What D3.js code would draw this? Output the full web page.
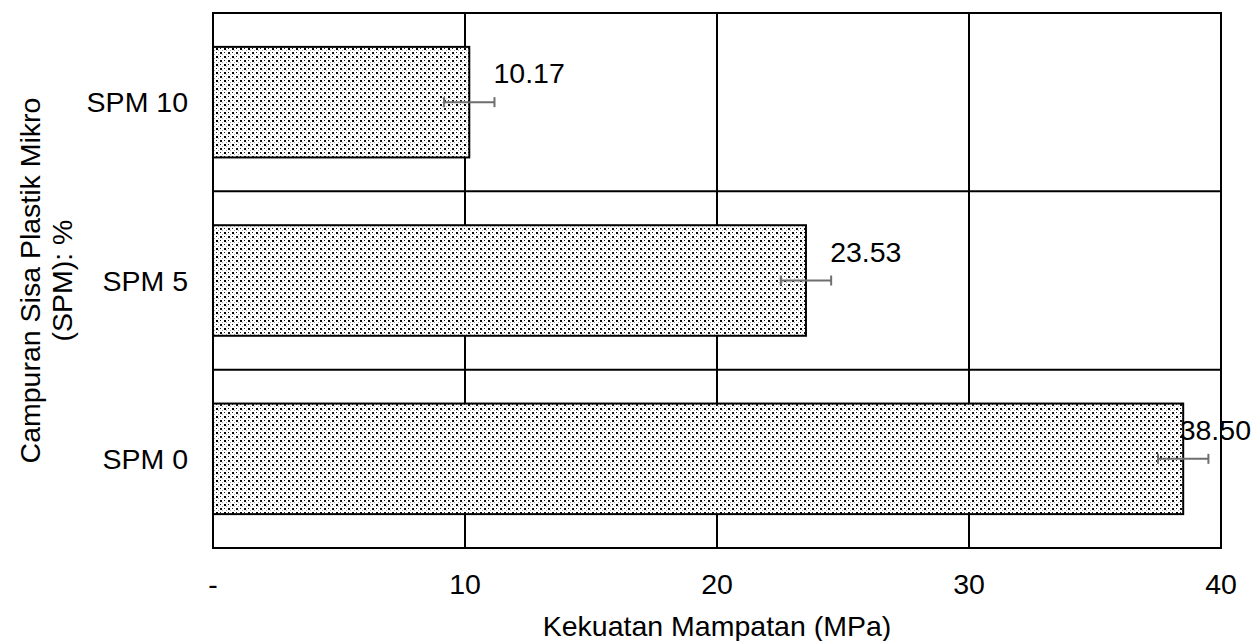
<!DOCTYPE html>
<html><head><meta charset="utf-8">
<script src="https://cdn.jsdelivr.net/npm/d3@7/dist/d3.min.js"></script>
<style>body{margin:0;background:#fff}text{font-family:"Liberation Sans",Arial,sans-serif}</style>
</head><body><svg id="c" width="1259" height="641"></svg>
<script>
const categories = ["SPM 10", "SPM 5", "SPM 0"];
const values = [10.17, 23.53, 38.50];
const errors = [1.0, 1.0, 1.0];
const labels = ["10.17", "23.53", "38.50"];
const xTicks = [0, 10, 20, 30, 40];
const xTickLabels = ["-", "10", "20", "30", "40"];

const svg = d3.select("#c");
const W = 1259;
const L = 213, R = 1221, T = 13, B = 548;
const FS = 28.5;
const x = d3.scaleLinear().domain([0, 40]).range([L, R]);
const y = d3.scaleBand().domain(categories).range([T, B]).paddingInner(0.38).paddingOuter(0.19);

const defs = svg.append("defs");
const pat = defs.append("pattern").attr("id","dots").attr("patternUnits","userSpaceOnUse").attr("width",8).attr("height",8);
pat.append("rect").attr("width",8).attr("height",8).attr("fill","#fff");
[[0,0,2,"#000"],[4,4,2,"#111"],[4,0,1,"#222"],[0,4,1,"#222"],[2,2,1,"#aaa"],[6,6,1,"#aaa"],[2,6,1,"#aaa"],[6,2,1,"#aaa"]]
  .forEach(([px,py,s,c]) => pat.append("rect").attr("x",px).attr("y",py).attr("width",s).attr("height",s).attr("fill",c));

// grid verticals
svg.append("g").selectAll("line").data(xTicks).join("line")
  .attr("x1", d => x(d)).attr("x2", d => x(d)).attr("y1", T).attr("y2", B)
  .attr("stroke", "#000").attr("stroke-width", 2);
// horizontal band boundaries
const bounds = [T, ...categories.slice(1).map(c => y(c) - y.step()*y.paddingInner()/2), B];
svg.append("g").selectAll("line").data(bounds).join("line")
  .attr("x1", L - 1).attr("x2", R + 1).attr("y1", d => d).attr("y2", d => d)
  .attr("stroke", "#000").attr("stroke-width", 2);

// bars
svg.append("g").selectAll("rect").data(categories).join("rect")
  .attr("x", x(0)).attr("y", d => y(d))
  .attr("width", (d,i) => x(values[i]) - x(0)).attr("height", y.bandwidth())
  .attr("fill", "url(#dots)").attr("stroke", "#000").attr("stroke-width", 2);

// error bars
const eg = svg.append("g").attr("stroke", "#6e6e6e").attr("stroke-width", 2);
categories.forEach((c, i) => {
  const cy = y(c) + y.bandwidth()/2;
  const x1 = x(values[i] - errors[i]), x2 = x(values[i] + errors[i]);
  eg.append("line").attr("x1", x1).attr("x2", x2).attr("y1", cy).attr("y2", cy);
  eg.append("line").attr("x1", x1).attr("x2", x1).attr("y1", cy-5).attr("y2", cy+5);
  eg.append("line").attr("x1", x2).attr("x2", x2).attr("y1", cy-5).attr("y2", cy+5);
});

// value labels (kept inside the picture, as the original does)
svg.append("g").selectAll("text").data(categories).join("text")
  .attr("y", d => y(d) + y.bandwidth()/2 - 19)
  .attr("font-size", FS).attr("fill", "#000").text((d,i) => labels[i])
  .each(function(d, i) {
    const w = this.getComputedTextLength();
    const px = Math.min(x(values[i] + errors[i]) - 1, W - w - 8);
    d3.select(this).attr("x", px);
  });

// category labels
svg.append("g").selectAll("text").data(categories).join("text")
  .attr("x", 188).attr("y", d => y(d) + y.bandwidth()/2 + 10)
  .attr("text-anchor", "end").attr("font-size", FS).text(d => d);

// x tick labels
svg.append("g").selectAll("text").data(xTicks).join("text")
  .attr("x", d => x(d)).attr("y", 594).attr("text-anchor", "middle")
  .attr("font-size", FS).text((d,i) => xTickLabels[i]);

// axis titles
svg.append("text").attr("x", (L+R)/2).attr("y", 636).attr("text-anchor", "middle")
  .attr("font-size", FS).text("Kekuatan Mampatan (MPa)");
const yt = svg.append("text").attr("transform", `translate(40,${(T+B)/2}) rotate(-90)`)
  .attr("text-anchor", "middle").attr("font-size", FS);
yt.append("tspan").attr("x", 0).attr("dy", 0).text("Campuran Sisa Plastik Mikro");
yt.append("tspan").attr("x", 0).attr("dy", 32).text("(SPM): %");
</script></body></html>
